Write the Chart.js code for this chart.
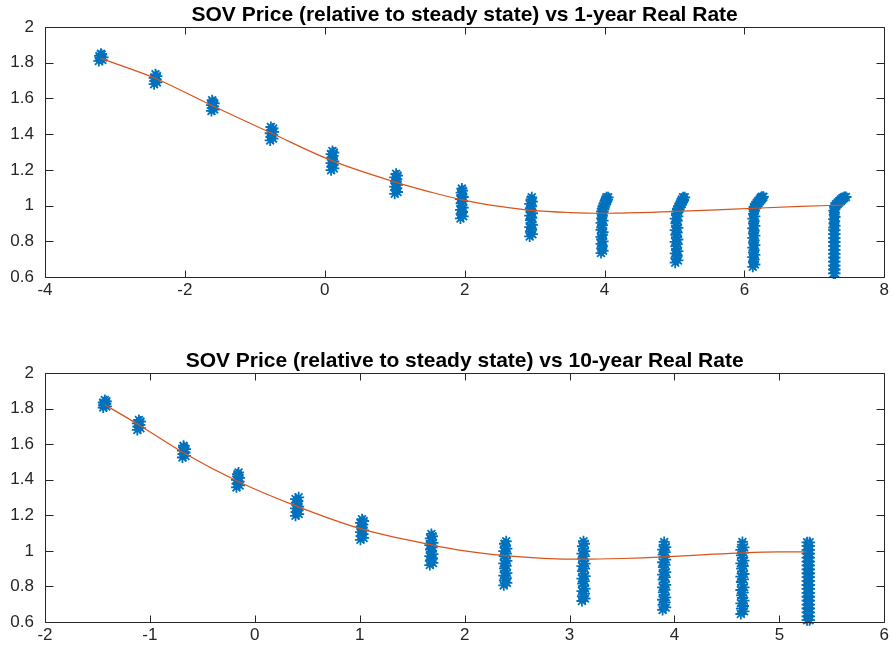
<!DOCTYPE html>
<html>
<head>
<meta charset="utf-8">
<script src="https://cdn.jsdelivr.net/npm/chart.js@4/dist/chart.umd.min.js"></script>
<style>
  html, body { margin: 0; padding: 0; background: #fff; }
  #wrap { position: relative; width: 892px; height: 647px; overflow: hidden; background: #fff; }
  .panel { position: absolute; left: 0; width: 892px; }
  #topPanel { top: 0; height: 323px; }
  #bottomPanel { top: 323px; height: 324px; }
</style>
</head>
<body>
<div id="wrap">
  <div class="panel" id="topPanel"><canvas id="shortChart"></canvas></div>
  <div class="panel" id="bottomPanel"><canvas id="longChart"></canvas></div>
</div>
<script>
// ---- 1-year real rate panel ----
const shortTitle = 'SOV Price (relative to steady state) vs 1-year Real Rate';
const shortRateTicks = [-4, -2, 0, 2, 4, 6, 8];

// one row per rate state: simulated rate (x) and SOV price (y)
const shortRate = [
  [-3.23, -3.18, -3.21, -3.17, -3.22, -3.19, -3.20],
  [-2.44, -2.40, -2.43, -2.41, -2.44, -2.40, -2.42],
  [-1.62, -1.58, -1.61, -1.59, -1.62, -1.58, -1.60, -1.61],
  [-0.78, -0.74, -0.77, -0.75, -0.78, -0.73, -0.76, -0.74, -0.77],
  [0.09, 0.13, 0.10, 0.12, 0.09, 0.13, 0.11, 0.10, 0.12, 0.09, 0.13, 0.11],
  [1.00, 1.04, 1.01, 1.03, 1.00, 1.04, 1.02, 1.01, 1.03, 1.00, 1.04, 1.02],
  [1.94, 1.98, 1.95, 1.97, 1.94, 1.98, 1.96, 1.95, 1.97, 1.94, 1.98, 1.96, 1.95, 1.97, 1.96],
  [2.93, 2.97, 2.94, 2.96, 2.93, 2.97, 2.95, 2.94, 2.96, 2.93, 2.97, 2.95, 2.94, 2.96, 2.93, 2.97, 2.95, 2.96],
  [3.95, 3.98, 3.96, 3.97, 3.95, 3.98, 3.96, 3.95, 3.97, 3.98, 3.95, 3.96, 3.97, 3.95, 3.98, 3.96, 3.97, 3.96,
   3.958, 3.982, 3.968, 3.992, 3.978, 4.002, 3.993, 4.017, 4.008, 4.032, 4.018, 4.042, 4.028, 4.052],
  [5.01, 5.05, 5.02, 5.04, 5.01, 5.05, 5.03, 5.02, 5.04, 5.01, 5.05, 5.03, 5.02, 5.04, 5.01, 5.05, 5.03, 5.02, 5.04, 5.01, 5.05, 5.03,
   5.028, 5.052, 5.043, 5.067, 5.058, 5.082, 5.078, 5.102, 5.093, 5.117, 5.108, 5.132, 5.123, 5.147],
  [6.12, 6.15, 6.13, 6.14, 6.12, 6.15, 6.13, 6.14, 6.12, 6.15, 6.13, 6.14, 6.12, 6.15, 6.13, 6.14, 6.12, 6.15, 6.13, 6.14, 6.12, 6.15, 6.13, 6.14, 6.136,
   6.138, 6.162, 6.158, 6.182, 6.178, 6.202, 6.198, 6.222, 6.218, 6.242, 6.233, 6.257, 6.248, 6.272],
  [7.275, 7.297, 7.275, 7.297, 7.275, 7.297, 7.275, 7.297, 7.275, 7.297, 7.275, 7.297,
   7.275, 7.297, 7.275, 7.297, 7.275, 7.297, 7.275, 7.297, 7.275, 7.297, 7.275, 7.297,
   7.276, 7.296, 7.280, 7.292, 7.276, 7.296, 7.284, 7.288, 7.278, 7.294,
   7.288, 7.312, 7.308, 7.332, 7.333, 7.357, 7.358, 7.382, 7.378, 7.402, 7.403, 7.427, 7.428, 7.452]
];
const shortPrice = [
  [1.810, 1.815, 1.825, 1.830, 1.838, 1.845, 1.850],
  [1.680, 1.690, 1.698, 1.705, 1.715, 1.725, 1.735],
  [1.530, 1.538, 1.546, 1.555, 1.563, 1.572, 1.580, 1.590],
  [1.365, 1.375, 1.385, 1.395, 1.405, 1.413, 1.422, 1.432, 1.440],
  [1.198, 1.208, 1.218, 1.228, 1.238, 1.248, 1.258, 1.268, 1.278, 1.288, 1.297, 1.305],
  [1.066, 1.076, 1.086, 1.096, 1.106, 1.116, 1.126, 1.136, 1.146, 1.158, 1.168, 1.178],
  [0.928, 0.940, 0.952, 0.964, 0.976, 0.988, 1.000, 1.012, 1.024, 1.036, 1.048, 1.060, 1.072, 1.084, 1.095],
  [0.827, 0.840, 0.853, 0.866, 0.879, 0.892, 0.905, 0.918, 0.931, 0.944, 0.957, 0.970, 0.983, 0.996, 1.009, 1.022, 1.034, 1.046],
  [0.734, 0.747, 0.760, 0.773, 0.786, 0.799, 0.812, 0.825, 0.838, 0.851, 0.864, 0.877, 0.890, 0.903, 0.916, 0.929, 0.942, 0.955,
   0.968, 0.968, 0.982, 0.982, 0.996, 0.996, 1.010, 1.010, 1.023, 1.023, 1.035, 1.035, 1.046, 1.046],
  [0.680, 0.693, 0.706, 0.719, 0.732, 0.745, 0.758, 0.771, 0.784, 0.797, 0.810, 0.823, 0.836, 0.849, 0.862, 0.875, 0.888, 0.901, 0.914, 0.927, 0.940, 0.953,
   0.966, 0.966, 0.980, 0.980, 0.994, 0.994, 1.008, 1.008, 1.021, 1.021, 1.034, 1.034, 1.046, 1.046],
  [0.657, 0.670, 0.684, 0.697, 0.711, 0.724, 0.738, 0.751, 0.765, 0.778, 0.792, 0.805, 0.819, 0.832, 0.846, 0.859, 0.873, 0.886, 0.900, 0.913, 0.927, 0.940, 0.954, 0.967, 0.980,
   0.992, 0.992, 1.004, 1.004, 1.015, 1.015, 1.025, 1.025, 1.034, 1.034, 1.042, 1.042, 1.049, 1.049],
  [0.620, 0.620, 0.642, 0.642, 0.664, 0.664, 0.686, 0.686, 0.708, 0.708, 0.730, 0.730,
   0.752, 0.752, 0.774, 0.774, 0.796, 0.796, 0.818, 0.818, 0.840, 0.840, 0.862, 0.862,
   0.876, 0.888, 0.900, 0.912, 0.924, 0.936, 0.948, 0.960, 0.972, 0.984,
   0.996, 0.996, 1.007, 1.007, 1.017, 1.017, 1.026, 1.026, 1.034, 1.034, 1.042, 1.042, 1.048, 1.048]
];
// fitted price curve
const shortFitRate  = [-3.20, -2.42, -1.60, -0.76, 0.11, 1.02, 1.50, 1.96, 2.50, 2.95, 3.50, 3.97, 4.50, 5.03, 5.60, 6.14, 6.80, 7.42];
const shortFitPrice = [1.824, 1.712, 1.558, 1.405, 1.250, 1.130, 1.077, 1.032, 0.995, 0.973, 0.961, 0.957, 0.960, 0.967, 0.976, 0.985, 0.995, 1.003];

// ---- 10-year real rate panel ----
const longTitle = 'SOV Price (relative to steady state) vs 10-year Real Rate';
const longRateTicks = [-2, -1, 0, 1, 2, 3, 4, 5, 6];

const longRate = [
  [-1.445, -1.415, -1.44, -1.42, -1.445, -1.415, -1.43],
  [-1.12, -1.09, -1.115, -1.095, -1.12, -1.09, -1.105],
  [-0.69, -0.66, -0.685, -0.665, -0.69, -0.66, -0.675, -0.68],
  [-0.175, -0.145, -0.17, -0.15, -0.175, -0.145, -0.16, -0.165, -0.155],
  [0.388, 0.418, 0.393, 0.413, 0.388, 0.418, 0.403, 0.395, 0.411, 0.388, 0.418],
  [1.007, 1.037, 1.012, 1.032, 1.007, 1.037, 1.022, 1.014, 1.030, 1.007, 1.037, 1.022],
  [1.668, 1.698, 1.673, 1.693, 1.668, 1.698, 1.683, 1.675, 1.691, 1.668, 1.698, 1.683, 1.673, 1.693, 1.683],
  [2.373, 2.403, 2.378, 2.398, 2.373, 2.403, 2.388, 2.380, 2.396, 2.373, 2.403, 2.388, 2.378, 2.398, 2.373, 2.403, 2.388, 2.380, 2.396],
  [3.118, 3.148, 3.123, 3.143, 3.118, 3.148, 3.133, 3.125, 3.141, 3.118, 3.148, 3.133, 3.123, 3.143, 3.118, 3.148, 3.133, 3.125, 3.141, 3.118, 3.148, 3.133, 3.123, 3.143, 3.133],
  [3.887, 3.917, 3.892, 3.912, 3.887, 3.917, 3.902, 3.894, 3.910, 3.887, 3.917, 3.902, 3.892, 3.912, 3.887, 3.917, 3.902, 3.894, 3.910, 3.887, 3.917, 3.902, 3.892, 3.912, 3.887, 3.917, 3.902, 3.902],
  [4.633, 4.663, 4.638, 4.658, 4.633, 4.663, 4.648, 4.640, 4.656, 4.633, 4.663, 4.648, 4.638, 4.658, 4.633, 4.663, 4.648, 4.640, 4.656, 4.633, 4.663, 4.648, 4.638, 4.658, 4.633, 4.663, 4.648, 4.648],
  [5.264, 5.288, 5.264, 5.288, 5.264, 5.288, 5.264, 5.288, 5.264, 5.288, 5.264, 5.288, 5.264, 5.288,
   5.264, 5.288, 5.264, 5.288, 5.264, 5.288, 5.264, 5.288, 5.264, 5.288, 5.264, 5.288, 5.264, 5.288,
   5.264, 5.288, 5.264, 5.288, 5.264, 5.288, 5.264, 5.288, 5.264, 5.288, 5.264, 5.288, 5.264, 5.288]
];
const longPrice = [
  [1.806, 1.812, 1.820, 1.827, 1.834, 1.841, 1.848],
  [1.680, 1.690, 1.699, 1.708, 1.717, 1.727, 1.736],
  [1.525, 1.534, 1.544, 1.553, 1.563, 1.572, 1.582, 1.591],
  [1.357, 1.368, 1.378, 1.389, 1.399, 1.410, 1.420, 1.431, 1.441],
  [1.197, 1.207, 1.218, 1.228, 1.239, 1.249, 1.259, 1.270, 1.280, 1.291, 1.301],
  [1.062, 1.073, 1.083, 1.094, 1.105, 1.115, 1.126, 1.136, 1.147, 1.157, 1.168, 1.178],
  [0.920, 0.932, 0.945, 0.957, 0.970, 0.982, 0.995, 1.007, 1.020, 1.032, 1.045, 1.057, 1.070, 1.082, 1.095],
  [0.806, 0.820, 0.834, 0.847, 0.861, 0.875, 0.889, 0.902, 0.916, 0.930, 0.944, 0.957, 0.971, 0.985, 0.999, 1.012, 1.026, 1.040, 1.054],
  [0.718, 0.732, 0.746, 0.760, 0.774, 0.788, 0.802, 0.816, 0.830, 0.844, 0.858, 0.872, 0.886, 0.900, 0.914, 0.928, 0.942, 0.956, 0.970, 0.984, 0.998, 1.012, 1.026, 1.040, 1.054],
  [0.668, 0.682, 0.696, 0.710, 0.725, 0.739, 0.753, 0.767, 0.781, 0.795, 0.809, 0.823, 0.838, 0.852, 0.866, 0.880, 0.894, 0.908, 0.922, 0.936, 0.951, 0.965, 0.979, 0.993, 1.007, 1.021, 1.035, 1.050],
  [0.645, 0.660, 0.675, 0.690, 0.705, 0.720, 0.735, 0.750, 0.765, 0.780, 0.795, 0.810, 0.825, 0.840, 0.855, 0.870, 0.885, 0.900, 0.915, 0.930, 0.945, 0.960, 0.975, 0.990, 1.005, 1.020, 1.035, 1.050],
  [0.610, 0.610, 0.632, 0.632, 0.654, 0.654, 0.676, 0.676, 0.698, 0.698, 0.720, 0.720, 0.742, 0.742,
   0.764, 0.764, 0.786, 0.786, 0.808, 0.808, 0.830, 0.830, 0.852, 0.852, 0.874, 0.874, 0.896, 0.896,
   0.918, 0.918, 0.940, 0.940, 0.962, 0.962, 0.984, 0.984, 1.006, 1.006, 1.028, 1.028, 1.048, 1.048]
];
const longFitRate  = [-1.43, -1.105, -0.676, -0.159, 0.403, 1.022, 1.683, 2.00, 2.388, 2.75, 3.133, 3.50, 3.902, 4.30, 4.648, 5.00, 5.257];
const longFitPrice = [1.822, 1.708, 1.550, 1.390, 1.250, 1.122, 1.034, 1.000, 0.973, 0.958, 0.953, 0.957, 0.966, 0.979, 0.989, 0.994, 0.994];

const priceTicks = [0.6, 0.8, 1, 1.2, 1.4, 1.6, 1.8, 2];

// ---- drawing ----
const AXIS_COLOR = '#262626';
const MARKER_COLOR = '#0072BD';
const FIT_COLOR = '#D95319';
const FONT = '"Liberation Sans", Arial, Helvetica, sans-serif';

// boxed axes with inward-pointing ticks, plus a bold title over the plot box
const boxAxes = {
  id: 'boxAxes',
  afterDraw(chart, args, opts) {
    const { ctx, chartArea: a, scales } = chart;
    const L = Math.round(a.left) + 0.5, R = Math.round(a.right) + 0.5;
    const T = Math.round(a.top) + 0.5, B = Math.round(a.bottom) + 0.5;
    ctx.save();
    ctx.strokeStyle = AXIS_COLOR;
    ctx.lineWidth = 1;
    ctx.beginPath();
    ctx.rect(L, T, R - L, B - T);
    scales.x.ticks.forEach(t => {
      const px = Math.round(scales.x.getPixelForValue(t.value)) + 0.5;
      ctx.moveTo(px, B); ctx.lineTo(px, B - 7);
      ctx.moveTo(px, T); ctx.lineTo(px, T + 7);
    });
    scales.y.ticks.forEach(t => {
      const py = Math.round(scales.y.getPixelForValue(t.value)) + 0.5;
      ctx.moveTo(L, py); ctx.lineTo(L + 8, py);
      ctx.moveTo(R, py); ctx.lineTo(R - 8, py);
    });
    ctx.stroke();

    ctx.fillStyle = '#000';
    ctx.font = 'bold 21px ' + FONT;
    ctx.textAlign = 'center';
    ctx.textBaseline = 'alphabetic';
    ctx.fillText(opts.text, (a.left + a.right) / 2, a.top - 6);
    ctx.restore();
  }
};

function points(rates, prices) {
  return rates.flatMap((row, i) => row.map((x, j) => ({ x, y: prices[i][j] })));
}

function makePanel(canvasId, cfg) {
  return new Chart(document.getElementById(canvasId), {
    type: 'scatter',
    data: {
      datasets: [
        {
          type: 'line',
          label: 'fit',
          data: cfg.fitRate.map((x, i) => ({ x, y: cfg.fitPrice[i] })),
          borderColor: FIT_COLOR,
          borderWidth: 1.2,
          pointRadius: 0,
          fill: false,
          tension: 0.4,
          cubicInterpolationMode: 'monotone'
        },
        {
          label: 'price',
          data: points(cfg.rate, cfg.price),
          pointStyle: 'star',
          pointRadius: 5.5,
          borderColor: MARKER_COLOR,
          backgroundColor: MARKER_COLOR,
          borderWidth: 1.8,
          clip: false
        }
      ]
    },
    options: {
      responsive: true,
      maintainAspectRatio: false,
      animation: false,
      events: [],
      layout: { padding: { left: 0, right: 7, top: cfg.top, bottom: 0 } },
      plugins: {
        legend: { display: false },
        tooltip: { enabled: false },
        title: { display: false },
        boxAxes: { text: cfg.title }
      },
      scales: {
        x: {
          type: 'linear',
          min: cfg.xTicks[0],
          max: cfg.xTicks[cfg.xTicks.length - 1],
          afterBuildTicks: s => { s.ticks = cfg.xTicks.map(v => ({ value: v })); },
          afterFit: s => { s.height = cfg.xAxisHeight; },
          grid: { display: false, drawTicks: false },
          border: { display: false },
          ticks: {
            color: AXIS_COLOR,
            font: { family: FONT, size: 17 },
            padding: 3,
            maxRotation: 0,
            autoSkip: false,
            callback: v => String(v)
          }
        },
        y: {
          type: 'linear',
          min: 0.6,
          max: 2,
          afterBuildTicks: s => { s.ticks = priceTicks.map(v => ({ value: v })); },
          afterFit: s => { s.width = 45; },
          grid: { display: false, drawTicks: false },
          border: { display: false },
          ticks: {
            color: AXIS_COLOR,
            font: { family: FONT, size: 17 },
            padding: 11,
            autoSkip: false,
            callback: v => String(v)
          }
        }
      }
    },
    plugins: [boxAxes]
  });
}

makePanel('shortChart', {
  title: shortTitle, xTicks: shortRateTicks, top: 27, xAxisHeight: 46,
  rate: shortRate, price: shortPrice, fitRate: shortFitRate, fitPrice: shortFitPrice
});
makePanel('longChart', {
  title: longTitle, xTicks: longRateTicks, top: 50, xAxisHeight: 25,
  rate: longRate, price: longPrice, fitRate: longFitRate, fitPrice: longFitPrice
});
</script>
</body>
</html>
